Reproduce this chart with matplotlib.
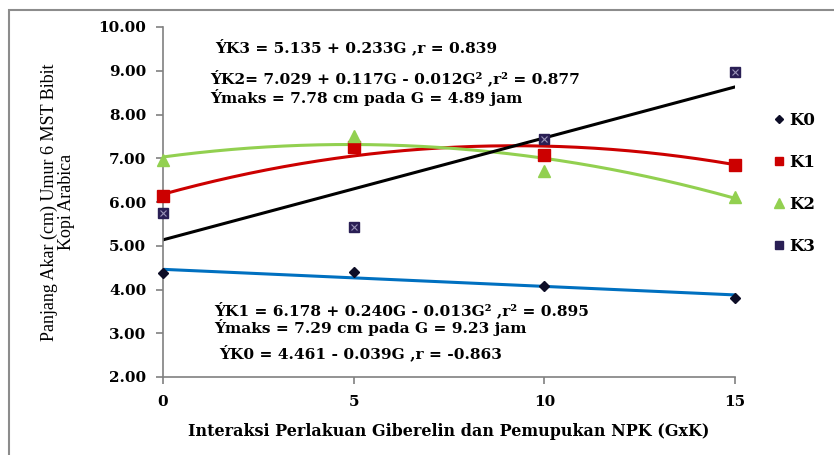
import numpy as np
import matplotlib.pyplot as plt
from matplotlib.patches import Rectangle

# Observed root length (cm) for each NPK level over the gibberellin treatment
G = [0, 5, 10, 15]
K0 = [4.38, 4.41, 4.09, 3.81]
K1 = [6.13, 7.25, 7.07, 6.85]
K2 = [6.97, 7.52, 6.72, 6.12]
K3 = [5.75, 5.42, 7.45, 8.97]

# Regression coefficients (intercept, linear, quadratic)
fit_K0 = [4.461, -0.039, 0.0]
fit_K1 = [6.178, 0.240, -0.013]
fit_K2 = [7.029, 0.117, -0.012]
fit_K3 = [5.135, 0.233, 0.0]

xticks = [0, 5, 10, 15]
yticks = [2, 3, 4, 5, 6, 7, 8, 9, 10]

plt.rcParams['font.family'] = ['DejaVu Serif']

fig = plt.figure(figsize=(8.34, 4.55), dpi=100)
fig.patches.append(Rectangle((9 / 834, -0.01), 1.05, 1 - 10 / 455 + 0.01,
                             transform=fig.transFigure, fill=False,
                             edgecolor='#8c8c8c', linewidth=1.5))
ax = fig.add_axes([163 / 834, 1 - 377 / 455, (735 - 163) / 834, (377 - 27) / 455])

gg = np.linspace(0, 15, 200)


def curve(c):
    return c[0] + c[1] * gg + c[2] * gg ** 2


ax.plot(gg, curve(fit_K0), color='#0070C0', lw=2.2, zorder=2)
ax.plot(gg, curve(fit_K1), color='#CC0000', lw=2.2, zorder=2)
ax.plot(gg, curve(fit_K2), color='#92D050', lw=2.2, zorder=2)
ax.plot(gg, curve(fit_K3), color='black', lw=2.2, zorder=2)

ax.plot(G, K0, ls='none', marker='D', ms=5, color='#0d0d26', clip_on=False, zorder=3, label='K0')
ax.plot(G, K1, ls='none', marker='s', ms=8, color='#CC0000', clip_on=False, zorder=3, label='K1')
ax.plot(G, K2, ls='none', marker='^', ms=9, color='#92D050', clip_on=False, zorder=3, label='K2')
ax.plot(G, K3, ls='none', marker='s', ms=7.5, color='#2a1f55', clip_on=False, zorder=3, label='K3')
ax.plot(G, K3, ls='none', marker='x', ms=5, mew=0.8, color='#9a94b8', clip_on=False, zorder=4)

ax.set_xlim(0, 15)
ax.set_ylim(2, 10)
ax.set_xticks(xticks)
ax.set_xticklabels([str(t) for t in xticks])
ax.set_yticks(yticks)
ax.set_yticklabels([f'{t:.2f}' for t in yticks])
for lab in ax.get_xticklabels() + ax.get_yticklabels():
    lab.set_fontweight('bold')
    lab.set_fontsize(11)

for s in ['top', 'right']:
    ax.spines[s].set_visible(False)
for s in ['left', 'bottom']:
    ax.spines[s].set_color('#808080')
    ax.spines[s].set_linewidth(1.2)
ax.tick_params(axis='both', direction='out', length=5, color='#808080', width=1.2)
ax.tick_params(axis='x', pad=8)
ax.tick_params(axis='y', pad=7)

ax.set_xlabel('Interaksi Perlakuan Giberelin dan Pemupukan NPK (GxK)',
              fontsize=11.5, fontweight='bold')
ax.xaxis.set_label_coords(0.5, -(432 - 377) / 350, transform=ax.transAxes)
ax.xaxis.label.set_va('center')
ax.set_ylabel('Panjang Akar (cm) Umur 6 MST Bibit\nKopi Arabica', fontsize=13,
              family=['Liberation Serif'], linespacing=1.0)
ax.yaxis.set_label_coords(-(163 - 58) / 572, 0.5, transform=ax.transAxes)
ax.yaxis.label.set_va('center')

tkw = dict(fontsize=11.1, fontweight='bold', transform=fig.transFigure, va='center')
fig.text(215 / 834, 1 - 47 / 455, 'ÝK3 = 5.135 + 0.233G ,r = 0.839', **tkw)
fig.text(210 / 834, 1 - 78 / 455, 'ÝK2= 7.029 + 0.117G - 0.012G² ,r² = 0.877', **tkw)
fig.text(210 / 834, 1 - 97 / 455, 'Ýmaks = 7.78 cm pada G = 4.89 jam', **tkw)
fig.text(214 / 834, 1 - 310 / 455, 'ÝK1 = 6.178 + 0.240G - 0.013G² ,r² = 0.895', **tkw)
fig.text(214 / 834, 1 - 328 / 455, 'Ýmaks = 7.29 cm pada G = 9.23 jam', **tkw)
fig.text(219 / 834, 1 - 353 / 455, 'ÝK0 = 4.461 - 0.039G ,r = -0.863', **tkw)

leg = fig.legend(loc='upper left', bbox_to_anchor=(759 / 834, 1 - 97 / 455),
                 frameon=False, prop={'size': 12, 'weight': 'bold'},
                 handlelength=0.6, handletextpad=0.3,
                 labelspacing=1.5, markerscale=0.8)

fig.savefig('out.png', dpi=100)
